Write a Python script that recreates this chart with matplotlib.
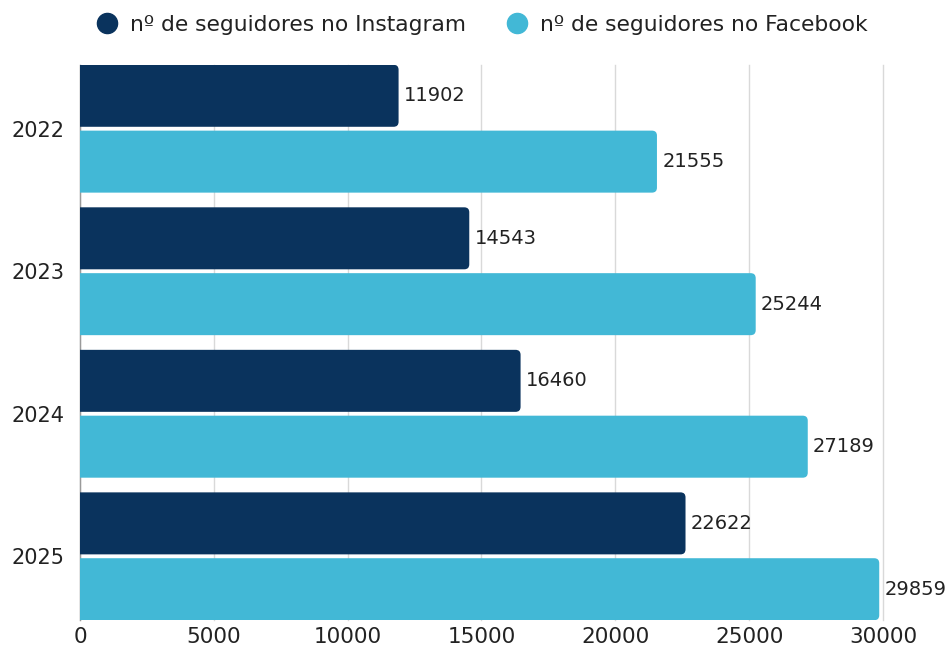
import matplotlib.pyplot as plt
from matplotlib.patches import FancyBboxPatch
from matplotlib.lines import Line2D

# data
years = ['2022', '2023', '2024', '2025']
instagram = [11902, 14543, 16460, 22622]
facebook = [21555, 25244, 27189, 29859]
series_names = ['nº de seguidores no Instagram', 'nº de seguidores no Facebook']
xticks = [0, 5000, 10000, 15000, 20000, 25000, 30000]

colors = ['#0A335D', '#42B8D6']
plt.rcParams['font.family'] = ['DejaVu Sans']

fig = plt.figure(figsize=(9.53, 6.48), dpi=100)
ax = fig.add_axes([80 / 953, 28 / 648, 803 / 953, 555 / 648])

xmax = 30000
ax.set_xlim(0, xmax)
ax.set_ylim(len(years) - 1 + 0.447, -0.447)

bar_h = 0.435
offset = 0.231
# keep the rounded corners ~5 px in both directions
px_x = 803 / xmax
px_y = 555 / (len(years) - 1 + 0.894)
aspect = px_x / px_y
r = 5 / px_x

for i, yr in enumerate(years):
    for vals, off, c in [(instagram, -offset, colors[0]), (facebook, offset, colors[1])]:
        v = vals[i]
        y0 = i + off - bar_h / 2
        box = FancyBboxPatch((-2000, y0), v + 2000, bar_h,
                             boxstyle=f'round,pad=0,rounding_size={r}',
                             mutation_aspect=aspect, fc=c, ec='none', zorder=3)
        ax.add_patch(box)
        ax.text(v + 200, i + off, str(v), va='center', ha='left',
                fontsize=14, color='#222222', clip_on=False, zorder=4)

ax.set_yticks(range(len(years)))
ax.set_yticklabels(years, fontsize=15, color='#222222')
ax.set_xticks(xticks)
ax.set_xticklabels([str(t) for t in xticks], fontsize=15.5, color='#222222')
ax.tick_params(length=0)
ax.tick_params(axis='y', pad=11)
ax.tick_params(axis='x', pad=5)
ax.grid(axis='x', color='#D9D9D9', linewidth=1, zorder=0)
for gl in ax.get_xgridlines():
    gl.set_clip_on(False)
for s in ['top', 'right', 'bottom']:
    ax.spines[s].set_visible(False)
ax.spines['left'].set_color('#9A9A9A')
ax.spines['left'].set_linewidth(1)

handles = [Line2D([], [], marker='o', ls='none', markersize=14.5,
                  markerfacecolor=c, markeredgecolor=c) for c in colors]
fig.legend(handles, series_names, loc='center', bbox_to_anchor=(0.5, 0.962),
           ncol=2, frameon=False, fontsize=15.7, handletextpad=0.05,
           columnspacing=1.35, labelcolor='#222222')

fig.savefig('out.png', dpi=100)
